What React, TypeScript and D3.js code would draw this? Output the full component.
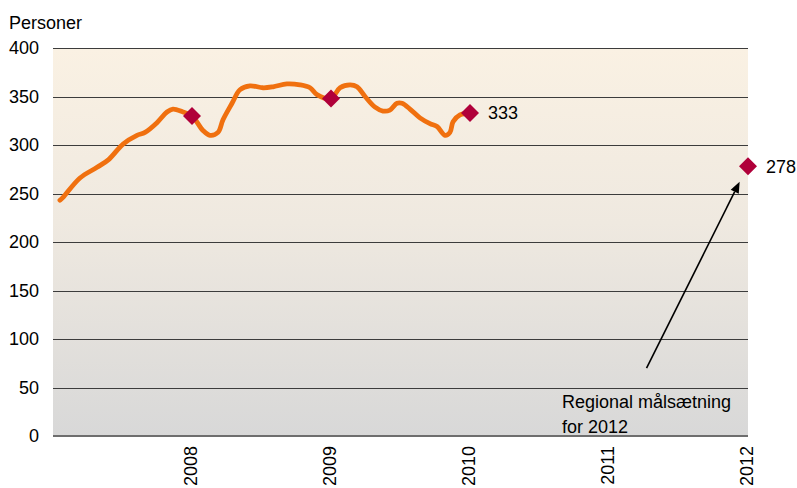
import React from "react";
import * as d3 from "d3";

const yTicks = [0, 50, 100, 150, 200, 250, 300, 350, 400];
const yearTicks = [2008, 2009, 2010, 2011, 2012];

const trendTime = [
  2007.05, 2007.072, 2007.194, 2007.317, 2007.4, 2007.504, 2007.604, 2007.662, 2007.748,
  2007.82, 2007.863, 2007.935, 2008.0, 2008.079, 2008.129, 2008.187, 2008.223, 2008.288,
  2008.345, 2008.417, 2008.511, 2008.583, 2008.683, 2008.777, 2008.849, 2008.899, 2009.0,
  2009.065, 2009.137, 2009.187, 2009.245, 2009.317, 2009.374, 2009.424, 2009.475, 2009.511,
  2009.568, 2009.64, 2009.712, 2009.763, 2009.82, 2009.856, 2009.878, 2009.928, 2010.0,
];
const trendValue = [
  243, 246, 266, 277, 285, 301, 310, 313, 323,
  334, 337, 334, 330, 315, 310, 313, 326, 343,
  357, 361, 359, 360, 363, 362, 359, 352, 348,
  359, 362, 360, 350, 339, 335, 336, 343, 343,
  337, 328, 322, 319, 310, 313, 324, 331, 333,
];

const markerYear = [2008, 2009, 2010, 2012];
const markerValue = [330, 348, 333, 278];
const markerLabel = ["", "", "333", "278"];

const yAxisTitle = "Personer";
const noteLines = ["Regional målsætning", "for 2012"];

export default function App() {
  const W = 797;
  const H = 488;
  const left = 53;
  const right = 748;
  const top = 48;
  const bottom = 436;
  const x = d3.scaleLinear().domain([2007, 2012]).range([left, right]);
  const y = d3.scaleLinear().domain([0, 400]).range([bottom, top]);
  const line = d3
    .line<number>()
    .x((_, i) => x(trendTime[i]))
    .y((d) => y(d))
    .curve(d3.curveCatmullRom.alpha(0.5));
  const font = "Liberation Sans, Arial, sans-serif";
  const fs = 18;

  const ax0 = x(2011.27);
  const ay0 = y(70);
  const ax1 = x(2011.94);
  const ay1 = y(262);
  const ang = Math.atan2(ay1 - ay0, ax1 - ax0);
  const ah = 11;
  const aw = 4.5;
  const p1 = [ax1 - ah * Math.cos(ang) + aw * Math.sin(ang), ay1 - ah * Math.sin(ang) - aw * Math.cos(ang)];
  const p2 = [ax1 - ah * Math.cos(ang) - aw * Math.sin(ang), ay1 - ah * Math.sin(ang) + aw * Math.cos(ang)];

  return (
    <svg
      width={W}
      height={H}
      style={{ position: "absolute", left: 0, top: 0, background: "#fff" }}
      fontFamily={font}
    >
      <defs>
        <linearGradient id="bg" x1="0" y1="0" x2="0" y2="1">
          <stop offset="0" stopColor="#faf1e3" />
          <stop offset="0.45" stopColor="#efe9e0" />
          <stop offset="1" stopColor="#d8d8d8" />
        </linearGradient>
      </defs>
      <rect x={left} y={top} width={right - left} height={bottom - top} fill="url(#bg)" />
      {yTicks.map((t) => (
        <g key={t}>
          {t > 0 && (
            <line
              x1={left}
              x2={right}
              y1={Math.round(y(t)) + 0.5}
              y2={Math.round(y(t)) + 0.5}
              stroke="#3c3c3c"
              strokeWidth={1.2}
            />
          )}
          <text x={39} y={y(t)} dy="0.35em" textAnchor="end" fontSize={fs} fill="#000">
            {t}
          </text>
        </g>
      ))}
      <line x1={left} x2={right} y1={bottom} y2={bottom} stroke="#6e6e6e" strokeWidth={2} />
      {yearTicks.map((yr) => (
        <text
          key={yr}
          transform={`translate(${x(yr) + 5},446) rotate(-90)`}
          textAnchor="end"
          fontSize={fs}
          fill="#000"
        >
          {yr}
        </text>
      ))}
      <text x={9} y={29} fontSize={fs} fill="#000">
        {yAxisTitle}
      </text>
      <path
        d={line(trendValue) || ""}
        fill="none"
        stroke="#f0700f"
        strokeWidth={4.8}
        strokeLinecap="round"
        strokeLinejoin="round"
      />
      {markerYear.map((yr, i) => {
        const cx = x(yr);
        const cy = y(markerValue[i]);
        const r = 9;
        return (
          <g key={yr}>
            <path
              d={`M${cx},${cy - r}L${cx + r},${cy}L${cx},${cy + r}L${cx - r},${cy}Z`}
              fill="#b0003a"
            />
            {markerLabel[i] && (
              <text x={cx + 18} y={cy} dy="0.35em" fontSize={fs} fill="#000">
                {markerLabel[i]}
              </text>
            )}
          </g>
        );
      })}
      <line x1={ax0} y1={ay0} x2={(p1[0] + p2[0]) / 2} y2={(p1[1] + p2[1]) / 2} stroke="#000" strokeWidth={1.6} />
      <path d={`M${ax1},${ay1}L${p1[0]},${p1[1]}L${p2[0]},${p2[1]}Z`} fill="#000" />
      {noteLines.map((t, i) => (
        <text key={i} x={562} y={408 + i * 25} fontSize={fs} fill="#000">
          {t}
        </text>
      ))}
    </svg>
  );
}
